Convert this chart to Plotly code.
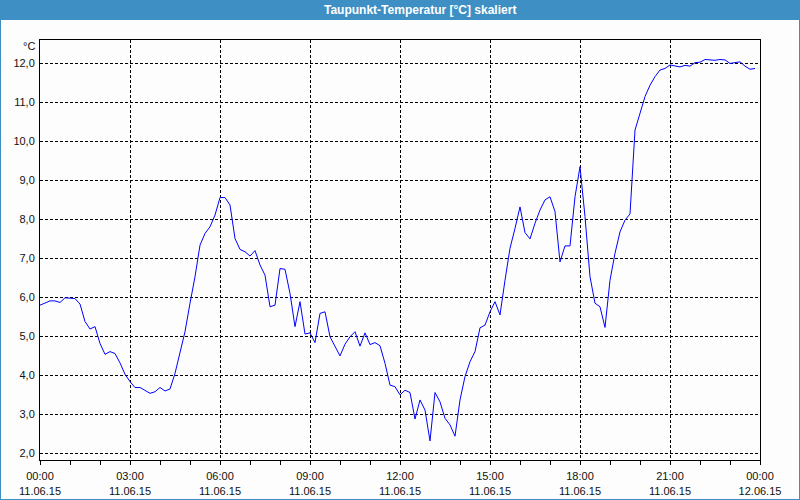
import pandas as pd
import plotly.graph_objects as go

# Dew point temperature readings, every 10 minutes from 11.06.15 00:00
start_time = "2015-06-11 00:00"
end_time = "2015-06-12 00:00"
values_00_08 = [5.80, 5.86, 5.91, 5.91, 5.87, 5.99, 5.98, 5.97, 5.83, 5.38, 5.19, 5.25,
                4.82, 4.54, 4.61, 4.56, 4.32, 4.03, 3.84, 3.69, 3.69, 3.61, 3.54, 3.58,
                3.69, 3.60, 3.65, 4.05, 4.55, 5.12, 5.85, 6.53, 7.34, 7.64, 7.81, 8.11,
                8.56, 8.56, 8.37, 7.51, 7.23, 7.17, 7.06, 7.20, 6.83, 6.57, 5.76, 5.80]
values_08_16 = [6.74, 6.72, 6.10, 5.25, 5.89, 5.06, 5.09, 4.84, 5.59, 5.63, 4.99, 4.75,
                4.50, 4.80, 4.99, 5.12, 4.75, 5.09, 4.79, 4.84, 4.76, 4.31, 3.75, 3.71,
                3.50, 3.62, 3.56, 2.88, 3.37, 3.11, 2.32, 3.56, 3.32, 2.90, 2.73, 2.44,
                3.37, 3.97, 4.35, 4.61, 5.22, 5.29, 5.63, 5.89, 5.55, 6.44, 7.26, 7.77]
values_16_24 = [8.32, 7.66, 7.50, 7.90, 8.24, 8.50, 8.58, 8.20, 6.91, 7.32, 7.32, 8.58,
                9.35, 8.07, 6.53, 5.85, 5.76, 5.23, 6.44, 7.13, 7.68, 7.98, 8.14, 10.29,
                10.72, 11.15, 11.44, 11.66, 11.83, 11.87, 11.96, 11.93, 11.91, 11.95, 11.93, 12.02,
                12.03, 12.10, 12.09, 12.08, 12.10, 12.09, 12.00, 12.02, 12.04, 11.93, 11.85, 11.87]
values = values_00_08 + values_08_16 + values_16_24
times = pd.date_range(start_time, periods=len(values), freq="10min")

y_ticks = [2, 3, 4, 5, 6, 7, 8, 9, 10, 11, 12]
title_text = "Taupunkt-Temperatur [°C] skaliert"
unit_text = "°C"

W, H = 800, 500
ML, MR, MT, MB = 40, 40, 40, 40
PW, PH = W - ML - MR, H - MT - MB
BLUE = "#3d8fc4"
BG = "#fcfdfc"
FONT = "Liberation Sans"

def px(xp):
    return (xp - ML) / PW

def py(yp):
    return 1 - (yp - MT) / PH

fig = go.Figure()
fig.add_trace(go.Scatter(x=times, y=values, mode="lines",
                         line=dict(color="#0000ff", width=1), hoverinfo="skip"))

fig.update_layout(
    width=W, height=H,
    margin=dict(l=ML, r=MR, t=MT, b=MB, autoexpand=False),
    paper_bgcolor=BG, plot_bgcolor=BG,
    showlegend=False,
    separators=",.",
    font=dict(family=FONT, size=11, color="#111111"),
    xaxis=dict(
        type="date", range=[start_time, end_time], automargin=False,
        dtick=3 * 3600000, tick0=start_time,
        tickformat="%H:%M<br>%d.%m.%y",
        ticks="outside", ticklen=4, tickcolor="#000000", ticklabelstandoff=2,
        showgrid=True, gridcolor="#000000", griddash="3px,2px", gridwidth=1,
        showline=True, linecolor="#000000", linewidth=1, mirror=True,
        minor=dict(dtick=3600000, tick0=start_time, ticks="outside", ticklen=4,
                   tickcolor="#000000", showgrid=False),
        zeroline=False, fixedrange=True,
        tickfont=dict(family=FONT, size=11, color="#111111"),
    ),
    yaxis=dict(
        range=[1.83, 12.6], tickvals=y_ticks, tickformat=".1f", automargin=False,
        ticks="", showgrid=True, gridcolor="#000000", griddash="3px,2px", gridwidth=1,
        showline=True, linecolor="#000000", linewidth=1, mirror=True,
        zeroline=False, fixedrange=True, ticklabelstandoff=2,
        tickfont=dict(family=FONT, size=11, color="#111111"),
    ),
    shapes=[
        dict(type="rect", xref="paper", yref="paper",
             x0=px(0), x1=px(W), y0=py(20), y1=py(0),
             fillcolor=BLUE, line=dict(width=0), layer="above"),
        dict(type="rect", xref="paper", yref="paper",
             x0=px(0), x1=px(W), y0=py(H), y1=py(0),
             fillcolor="rgba(0,0,0,0)", line=dict(color=BLUE, width=2), layer="above"),
    ],
    annotations=[
        dict(text="<b>" + title_text + "</b>", xref="paper", yref="paper",
             x=px(420), y=py(10), xanchor="center", yanchor="middle", showarrow=False,
             font=dict(family=FONT, size=12, color="#ffffff")),
        dict(text=unit_text, xref="paper", yref="paper",
             x=px(37), y=py(46), xanchor="right", yanchor="middle", showarrow=False,
             font=dict(family=FONT, size=11, color="#111111")),
    ],
)

fig.write_html("out.html")
